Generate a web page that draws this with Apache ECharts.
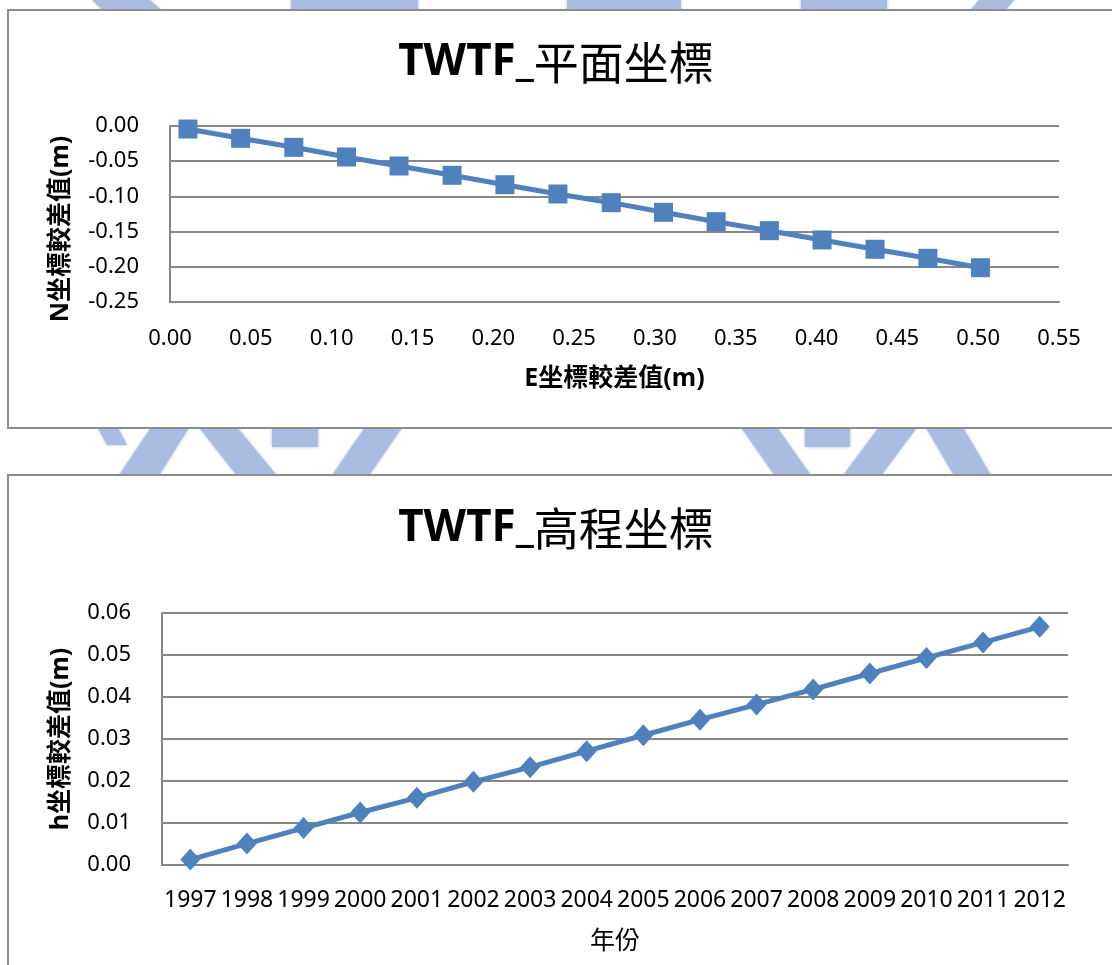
<!DOCTYPE html>
<html>
<head>
<meta charset="utf-8">
<script src="https://cdn.jsdelivr.net/npm/echarts@6/dist/echarts.min.js"></script>
<style>
  html, body { margin: 0; padding: 0; background: #ffffff; }
  #chart { width: 1112px; height: 965px; }
</style>
</head>
<body>
<div id="chart"></div>
<script>
// Plane coordinate differences (m) per year: E on x, N on y
const eDiff = [0.0111, 0.0437, 0.0766, 0.1092, 0.1417, 0.1745, 0.2072, 0.2400,
               0.2730, 0.3053, 0.3379, 0.3708, 0.4034, 0.4362, 0.4689, 0.5014];
const nDiff = [-0.0043, -0.0175, -0.0303, -0.0440, -0.0568, -0.0700, -0.0834, -0.0966,
               -0.1089, -0.1226, -0.1359, -0.1487, -0.1619, -0.1751, -0.1879, -0.2013];

// Height coordinate differences (m) per year
const years = ['1997', '1998', '1999', '2000', '2001', '2002', '2003', '2004',
               '2005', '2006', '2007', '2008', '2009', '2010', '2011', '2012'];
const hDiff = [0.0013, 0.0051, 0.0088, 0.0125, 0.0160, 0.0198, 0.0233, 0.0271,
               0.0309, 0.0346, 0.0382, 0.0418, 0.0456, 0.0493, 0.0530, 0.0567];

const titles = ['平面坐標', '高程坐標'];
const axisNames = { e: 'E坐標較差值(m)', n: 'N坐標較差值(m)', h: 'h坐標較差值(m)', year: '年份' };

const FONT = "'Noto Sans', 'Noto Sans CJK TC', sans-serif";
const BLUE = '#4f81bd';
const GRID_GRAY = '#878787';
const MARK_BLUE = '#a9bde3';

const fmt2 = v => v.toFixed(2);

const tickLabel = (margin) => ({
  color: '#000', fontFamily: FONT, fontSize: 22, margin: margin, formatter: fmt2
});

const lineStyleOpts = { color: GRID_GRAY, width: 2 };

const nameStyle = (weight) => ({ fontFamily: FONT, fontWeight: weight, fontSize: 25, color: '#000' });

// faint page emblem behind the two chart frames
const emblemParts = [
  // top strip
  [[92, 0], [150, 0], [163, 12], [105, 12]],
  [[291, 0], [418, 0], [418, 12], [291, 12]],
  [[567, 0], [681, 0], [681, 12], [567, 12]],
  [[801, 0], [887, 0], [887, 12], [801, 12]],
  [[979, 0], [1014, 0], [1004, 12], [969, 12]],
  // gap between frames, left half
  [[98, 428], [118, 428], [127, 445], [107, 445]],
  [[152, 426], [190, 426], [158, 477], [118, 477]],
  [[198, 426], [236, 426], [278, 477], [238, 477]],
  [[272, 426], [318, 426], [318, 447], [272, 447]],
  [[366, 426], [403, 426], [368, 477], [331, 477]],
  // gap between frames, right half
  [[740, 426], [776, 426], [812, 477], [776, 477]],
  [[805, 426], [850, 426], [850, 447], [805, 447]],
  [[880, 426], [918, 426], [880, 477], [842, 477]],
  [[925, 426], [962, 426], [992, 477], [955, 477]]
];

const chart = echarts.init(document.getElementById('chart'), null, { renderer: 'canvas' });

const titleRich = {
  a: { fontFamily: FONT, fontWeight: 'bold', fontSize: 44, color: '#000' },
  b: { fontFamily: "'Noto Sans CJK TC', sans-serif", fontWeight: 'normal', fontSize: 45, color: '#000' }
};

chart.setOption({
  animation: false,
  backgroundColor: '#ffffff',
  title: [
    { text: '{a|TWTF_}{b|' + titles[0] + '}', left: 'center', top: 35, textStyle: { rich: titleRich } },
    { text: '{a|TWTF_}{b|' + titles[1] + '}', left: 'center', top: 501, textStyle: { rich: titleRich } }
  ],
  graphic: emblemParts.map(pts => ({
    type: 'polygon', z: -10, silent: true,
    shape: { points: pts },
    style: { fill: MARK_BLUE, shadowBlur: 3, shadowColor: MARK_BLUE }
  })).concat([
    // chart frames
    { type: 'rect', z: -5, shape: { x: 8, y: 10, width: 1120, height: 418 },
      style: { fill: '#fff', stroke: '#8c8c8c', lineWidth: 2 } },
    { type: 'rect', z: -5, shape: { x: 8, y: 475, width: 1120, height: 500 },
      style: { fill: '#fff', stroke: '#8c8c8c', lineWidth: 2 } }
  ]),
  grid: [
    { left: 170, right: 53, top: 126, height: 176 },
    { left: 162, right: 44, top: 613, height: 252 }
  ],
  xAxis: [
    {
      gridIndex: 0, type: 'value', min: 0, max: 0.55, interval: 0.05,
      axisLine: { onZero: false, lineStyle: lineStyleOpts },
      axisTick: { show: false },
      splitLine: { show: false },
      axisLabel: tickLabel(26),
      name: axisNames.e, nameLocation: 'middle', nameGap: 64,
      nameTextStyle: nameStyle('bold')
    },
    {
      gridIndex: 1, type: 'category', data: years, boundaryGap: true,
      axisLine: { lineStyle: lineStyleOpts },
      axisTick: { show: false },
      splitLine: { show: false },
      axisLabel: { color: '#000', fontFamily: FONT, fontSize: 23, margin: 24, interval: 0 },
      name: axisNames.year, nameLocation: 'middle', nameGap: 64,
      nameTextStyle: nameStyle('normal')
    }
  ],
  yAxis: [
    {
      gridIndex: 0, type: 'value', min: -0.25, max: 0, interval: 0.05,
      axisLine: { show: true, onZero: false, lineStyle: lineStyleOpts },
      axisTick: { show: false },
      splitLine: { show: true, lineStyle: lineStyleOpts },
      axisLabel: tickLabel(31),
      name: axisNames.n, nameLocation: 'middle', nameGap: 97,
      nameTextStyle: Object.assign(nameStyle('bold'), { padding: [0, 30, 0, 0] })
    },
    {
      gridIndex: 1, type: 'value', min: 0, max: 0.06, interval: 0.01,
      axisLine: { show: true, onZero: false, lineStyle: lineStyleOpts },
      axisTick: { show: false },
      splitLine: { show: true, lineStyle: lineStyleOpts },
      axisLabel: tickLabel(31),
      name: axisNames.h, nameLocation: 'middle', nameGap: 89,
      nameTextStyle: nameStyle('bold')
    }
  ],
  series: [
    {
      type: 'line', xAxisIndex: 0, yAxisIndex: 0,
      data: eDiff.map((e, i) => [e, nDiff[i]]),
      symbol: 'rect', symbolSize: 19, showAllSymbol: true,
      lineStyle: { color: BLUE, width: 5 },
      itemStyle: { color: BLUE }
    },
    {
      type: 'line', xAxisIndex: 1, yAxisIndex: 1,
      data: hDiff,
      symbol: 'diamond', symbolSize: [20, 22], showAllSymbol: true,
      lineStyle: { color: BLUE, width: 5 },
      itemStyle: { color: BLUE }
    }
  ]
});
</script>
</body>
</html>
